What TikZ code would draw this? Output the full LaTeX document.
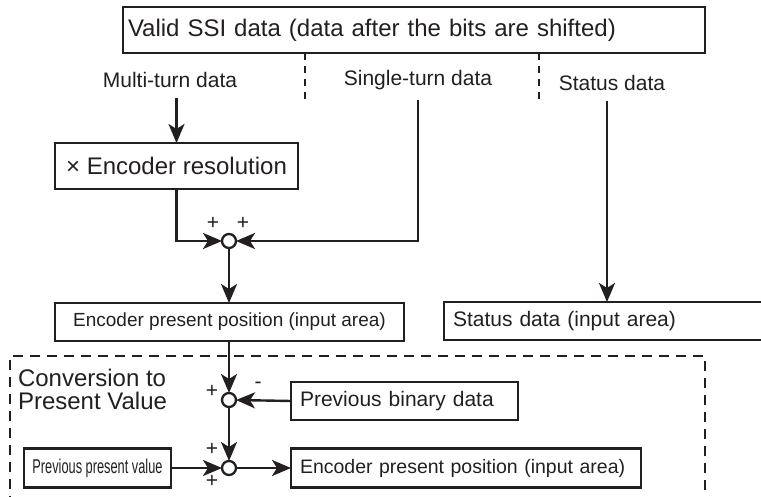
\documentclass[tikz,border=0pt]{standalone}
\usepackage{fontspec}
\setmainfont{Liberation Sans}
\newfontfamily\narrowfont[FakeStretch=0.64]{Liberation Sans}
\usepackage{tikz}
\usetikzlibrary{arrows.meta,positioning,calc}
\definecolor{ink}{RGB}{35,31,32}
\newcommand{\pxfont}[1]{\fontsize{#1}{#1}\selectfont}

\begin{document}
\begin{tikzpicture}[x=1pt, y=-1pt, color=ink, every node/.style={inner sep=0pt, outer sep=0pt, text=ink}, box/.style={draw=ink, line width=2.3pt, anchor=west, minimum height=38pt, inner xsep=9pt}, lbl/.style={font=\pxfont{21}, inner ysep=10pt}, sumpt/.style={draw=ink, circle, line width=2.3pt, minimum size=14pt}, sign/.style={font=\pxfont{21}}, arr/.style={-{Stealth[length=19pt, width=16pt, inset=5pt]}, line width=2.4pt}, divider/.style={line width=1.3pt, dash pattern=on 7pt off 6pt}, frame/.style={draw=ink, line width=2pt, dash pattern=on 10pt off 7pt, anchor=north west}]
\useasboundingbox (0,0) rectangle (761,497);
% upper part
\node[box, minimum height=46pt, inner xsep=5pt, text width=572pt, align=left, font=\pxfont{24}] (ssi) at (123,30) {Valid SSI data (data after the bits are shifted)};
\node[lbl] (multi) at (170,80) {Multi-turn data};
\node[lbl] (single) at (418,80) {Single-turn data};
\node[lbl] (status) at (612,83) {Status data};
\coordinate (d1) at (305,105);
\coordinate (d2) at (539,105);
\draw[divider] (d1 |- ssi.south) -- (d1);
\draw[divider] (d2 |- ssi.south) -- (d2);
\node[box, minimum width=243pt, minimum height=46pt, font=\pxfont{24}] (res) at (55,166) {× Encoder resolution};
\node[sumpt] (s1) at (229,241) {};
\node[sign] at ($(s1)+(-16,-18)$) {+};
\node[sign] at ($(s1)+(14,-18)$) {+};
\node[box, minimum width=349pt, font=\pxfont{19}] (enc) at (55,322) {Encoder present position (input area)};
\node[box, minimum width=320pt, text width=302pt, align=left, font=\pxfont{21}] (stbox) at (444,321) {Status data (input area)};
\draw[arr] (multi.south -| res.north) -- (res.north);
\draw[arr] (res.south) |- (s1.west);
\draw[arr] (single.south) |- (s1.east);
\draw[arr] (s1.south) -- (s1.south |- enc.north);
\draw[arr] ([xshift=-5pt]status.south) -- ([xshift=-5pt]status.south |- stbox.north);
% conversion to present value
\node[frame, minimum width=695pt, minimum height=170pt] (conv) at (10,356) {};
\node[anchor=north west, align=left, font=\fontsize{24}{23}\selectfont] (convtxt) at ($(conv.north west)+(8,13)$) {Conversion to\\Present Value};
\node[sumpt] (s2) at (229,400) {};
\node[sign] at ($(s2)+(-17,-9)$) {+};
\node[sign] at ($(s2)+(29,-15)$) {-};
\node[box, minimum width=227pt, text width=209pt, align=left, font=\pxfont{21}] (prevbin) at (291,401) {Previous binary data};
\node[sumpt] (s3) at (229,468) {};
\node[sign] at ($(s3)+(-17,-19)$) {+};
\node[sign] at ($(s3)+(-17,13)$) {+};
\node[box, minimum width=147pt, minimum height=39pt, inner xsep=4pt, font=\narrowfont\pxfont{20}] (prevpv) at (24,468) {Previous present value};
\node[box, minimum width=350pt, minimum height=39pt, text width=332pt, align=left, font=\pxfont{19.5}] (encout) at (291,468) {Encoder present position (input area)};
\draw[arr] (enc.south -| s2.north) -- (s2.north);
\draw[arr] (prevbin.west) -- (s2.east);
\draw[arr] (s2.south) -- (s3.north);
\draw[arr] (prevpv.east) -- (s3.west);
\draw[arr] (s3.east) -- (encout.west);
\end{tikzpicture}
\end{document}
